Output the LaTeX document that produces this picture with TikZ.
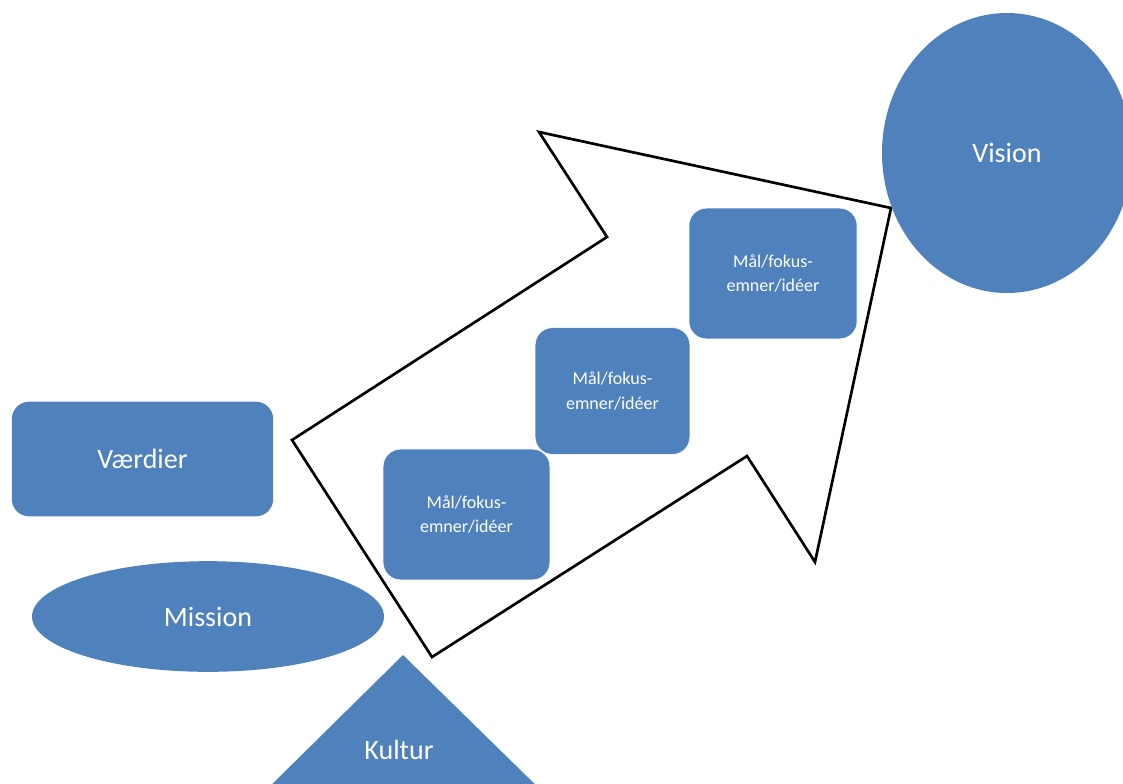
\documentclass[tikz,border=0pt]{standalone}
\usepackage{fontspec}
\setmainfont{Carlito}
\usetikzlibrary{shapes.geometric}
\definecolor{officeblue}{HTML}{4F81BD}
\tikzset{bx/.style  = {rectangle, rounded corners=13pt, fill=officeblue, draw=white, text=white,
                       inner sep=0pt, align=center, font=\fontsize{13.5}{18.5}\selectfont},
         big/.style = {fill=officeblue, text=white, inner sep=0pt, font=\fontsize{21}{25}\selectfont},
         pil/.style = {line width=2pt, line join=miter}}

\begin{document}
\begin{tikzpicture}[x=0.75pt, y=-0.75pt]
    \useasboundingbox (0,0) rectangle (1123,783);
    \clip (0,0) rectangle (1123,783);
    % arrow outline
    \coordinate (p1) at (432,657); \coordinate (p2) at (292,440); \coordinate (p3) at (607,237);
    \coordinate (p4) at (539,132); \coordinate (p5) at (891,208); \coordinate (p6) at (815,562);
    \coordinate (p7) at (747,456);
    \draw[pil] (p1) -- (p2) -- (p3) -- (p4) -- (p5) -- (p6) -- (p7) -- cycle;
    % triangle
    \fill[officeblue] (403,655) -- (551,800) -- (256,800) -- cycle;
    \node[big, fill=none] (kultur) at (399,750) {Kultur};
    \node[big, ellipse, minimum width=187.5pt, minimum height=210pt] (vision) at (1007,153) {Vision};
    \node[big, rectangle, rounded corners=13pt, minimum width=196pt, minimum height=86pt] (vaerdier) at (142.5,459) {Værdier};
    \node[big, ellipse, minimum width=264pt, minimum height=83pt] (mission) at (208,616.5) {Mission};
    \node[bx, minimum width=125pt, minimum height=98pt] (m1) at (466.5,514.5) {Mål/fokus-\\emner/idéer};
    \node[bx, minimum width=116pt, minimum height=95pt] (m2) at (612.5,391) {Mål/fokus-\\emner/idéer};
    \node[bx, minimum width=126pt, minimum height=98pt] (m3) at (773,273.5) {Mål/fokus-\\emner/idéer};
\end{tikzpicture}
\end{document}
